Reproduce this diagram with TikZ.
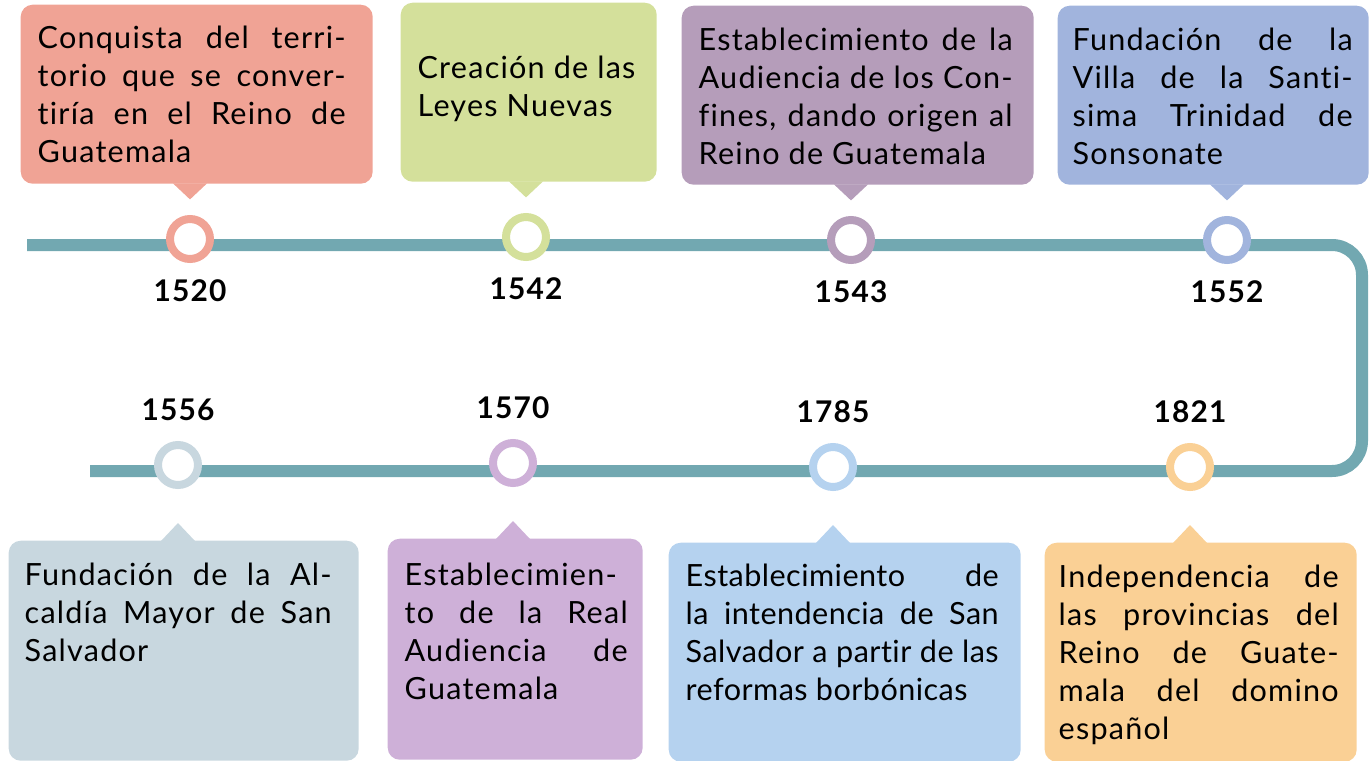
\documentclass[tikz,border=0pt]{standalone}
\usepackage{fontspec}
\setmainfont{Lato}[Ligatures=NoCommon,LetterSpace=4]
\usetikzlibrary{positioning,calc}
\tolerance=10000
\hbadness=10000

\definecolor{teal line}{HTML}{72A8B1}
\definecolor{salmonc}{HTML}{F0A395}
\definecolor{limec}{HTML}{D4E09B}
\definecolor{mauvec}{HTML}{B59DBA}
\definecolor{periwinklec}{HTML}{A1B4DD}
\definecolor{greybluec}{HTML}{C8D7DF}
\definecolor{lilacc}{HTML}{CEB0D8}
\definecolor{skybluec}{HTML}{B5D2EF}
\definecolor{apricotc}{HTML}{FAD095}

\begin{document}
\begin{tikzpicture}[x=0.1mm,y=-0.1mm,
    timeline/.style={draw=teal line,line width=1.2mm,rounded corners=3mm},
    ring/.style={circle,draw,fill=white,line width=0.8mm,minimum size=4mm,inner sep=0pt},
    year/.style={inner sep=0pt,font=\fontsize{8.5}{10}\selectfont\bfseries},
    ev box/.style={rounded corners=1.2mm,anchor=north west,inner sep=0pt},
    ev text/.style={anchor=north west,inner sep=0pt,align=justify,
        font=\fontsize{8.7}{10.8}\selectfont}]

    \useasboundingbox (0,0) rectangle (1372,761);

    % boxes
    \node[ev box,fill=salmonc,minimum width=35.2mm,minimum height=17.9mm] (b1) at (20,4) {};
    \node[ev box,fill=limec,minimum width=25.6mm,minimum height=17.9mm] (b2) at (400,2) {};
    \node[ev box,fill=mauvec,minimum width=35.2mm,minimum height=17.9mm] (b3) at (681,5) {};
    \node[ev box,fill=periwinklec,minimum width=31.1mm,minimum height=17.9mm] (b4) at (1057,5) {};
    \node[ev box,fill=greybluec,minimum width=35mm,minimum height=22mm] (b5) at (8,540) {};
    \node[ev box,fill=lilacc,minimum width=25.5mm,minimum height=22.1mm] (b6) at (387,538) {};
    \node[ev box,fill=skybluec,minimum width=35.2mm,minimum height=21.9mm] (b7) at (668,542) {};
    \node[ev box,fill=apricotc,minimum width=31.2mm,minimum height=21.9mm] (b8) at (1044,542) {};

    % line
    \coordinate (tstart) at (27,245);
    \coordinate (tcorner) at (1362,245);
    \coordinate (bcorner) at (1362,471);
    \coordinate (bstart) at (90,471);
    \draw[timeline] (tstart) -- (tcorner) -- (bcorner) -- (bstart);

    % rings
    \node[ring,draw=salmonc] (c1) at (190,239) {};
    \node[ring,draw=limec] (c2) at (526,237) {};
    \node[ring,draw=mauvec] (c3) at (851,240) {};
    \node[ring,draw=periwinklec] (c4) at (1227,240) {};
    \node[ring,draw=greybluec] (c5) at (178,465) {};
    \node[ring,draw=lilacc] (c6) at (513,463) {};
    \node[ring,draw=skybluec] (c7) at (833,467) {};
    \node[ring,draw=apricotc] (c8) at (1190,467) {};

    % pointers
    \fill[salmonc] ($(c1 |- b1.south)+(-17,-1)$) -- ($(c1 |- b1.south)+(0,15)$) -- ($(c1 |- b1.south)+(17,-1)$) -- cycle;
    \fill[limec] ($(c2 |- b2.south)+(-17,-1)$) -- ($(c2 |- b2.south)+(0,15)$) -- ($(c2 |- b2.south)+(17,-1)$) -- cycle;
    \fill[mauvec] ($(c3 |- b3.south)+(-17,-1)$) -- ($(c3 |- b3.south)+(0,15)$) -- ($(c3 |- b3.south)+(17,-1)$) -- cycle;
    \fill[periwinklec] ($(c4 |- b4.south)+(-17,-1)$) -- ($(c4 |- b4.south)+(0,15)$) -- ($(c4 |- b4.south)+(17,-1)$) -- cycle;
    \fill[greybluec] ($(c5 |- b5.north)+(-17,1)$) -- ($(c5 |- b5.north)+(0,-17)$) -- ($(c5 |- b5.north)+(17,1)$) -- cycle;
    \fill[lilacc] ($(c6 |- b6.north)+(-17,1)$) -- ($(c6 |- b6.north)+(0,-17)$) -- ($(c6 |- b6.north)+(17,1)$) -- cycle;
    \fill[skybluec] ($(c7 |- b7.north)+(-17,1)$) -- ($(c7 |- b7.north)+(0,-17)$) -- ($(c7 |- b7.north)+(17,1)$) -- cycle;
    \fill[apricotc] ($(c8 |- b8.north)+(-17,1)$) -- ($(c8 |- b8.north)+(0,-17)$) -- ($(c8 |- b8.north)+(17,1)$) -- cycle;

    % years
    \node[year,below=1.6mm of c1] (y1) {1520};
    \node[year,below=1.6mm of c2] (y2) {1542};
    \node[year,below=1.6mm of c3] (y3) {1543};
    \node[year,below=1.6mm of c4] (y4) {1552};
    \node[year,above=2mm of c5] (y5) {1556};
    \node[year,above=2mm of c6] (y6) {1570};
    \node[year,above=2mm of c7] (y7) {1785};
    \node[year,above=2mm of c8] (y8) {1821};

    % texts
    \node[ev text,text width=30.8mm] (t1) at ([shift={(17,21)}]b1.north west)
        {Conquista del terri-\linebreak torio que se conver-\linebreak tiría en el Reino de\linebreak Guatemala};
    \node[ev text,text width=24mm] (t2) at ([shift={(17,53)}]b2.north west)
        {Creación de las\newline Leyes Nuevas};
    \node[ev text,text width=31.4mm] (t3) at ([shift={(17,22)}]b3.north west)
        {Establecimiento de la\linebreak Audiencia de los Con-\linebreak fines, dando origen al\linebreak Reino de Guatemala};
    \node[ev text,text width=28mm] (t4) at ([shift={(15,22)}]b4.north west)
        {Fundación de la\linebreak Villa de la Santi-\linebreak sima Trinidad de\linebreak Sonsonate};
    \node[ev text,text width=30.7mm] (t5) at ([shift={(16,22)}]b5.north west)
        {Fundación de la Al-\linebreak caldía Mayor de San\linebreak Salvador};
    \node[ev text,text width=22.3mm] (t6) at ([shift={(17,24)}]b6.north west)
        {Establecimien-\linebreak to de la Real\linebreak Audiencia de\linebreak Guatemala};
    \node[ev text,text width=31.3mm,font=\fontsize{8.7}{10.8}\selectfont\addfontfeature{LetterSpace=1.5}] (t7)
        at ([shift={(17,21)}]b7.north west)
        {Establecimiento de\linebreak la intendencia de San\linebreak Salvador a partir de las\linebreak reformas borbónicas};
    \node[ev text,text width=28mm] (t8) at ([shift={(14,22)}]b8.north west)
        {Independencia de\linebreak las provincias del\linebreak Reino de Guate-\linebreak mala del domino\linebreak español};
\end{tikzpicture}
\end{document}
